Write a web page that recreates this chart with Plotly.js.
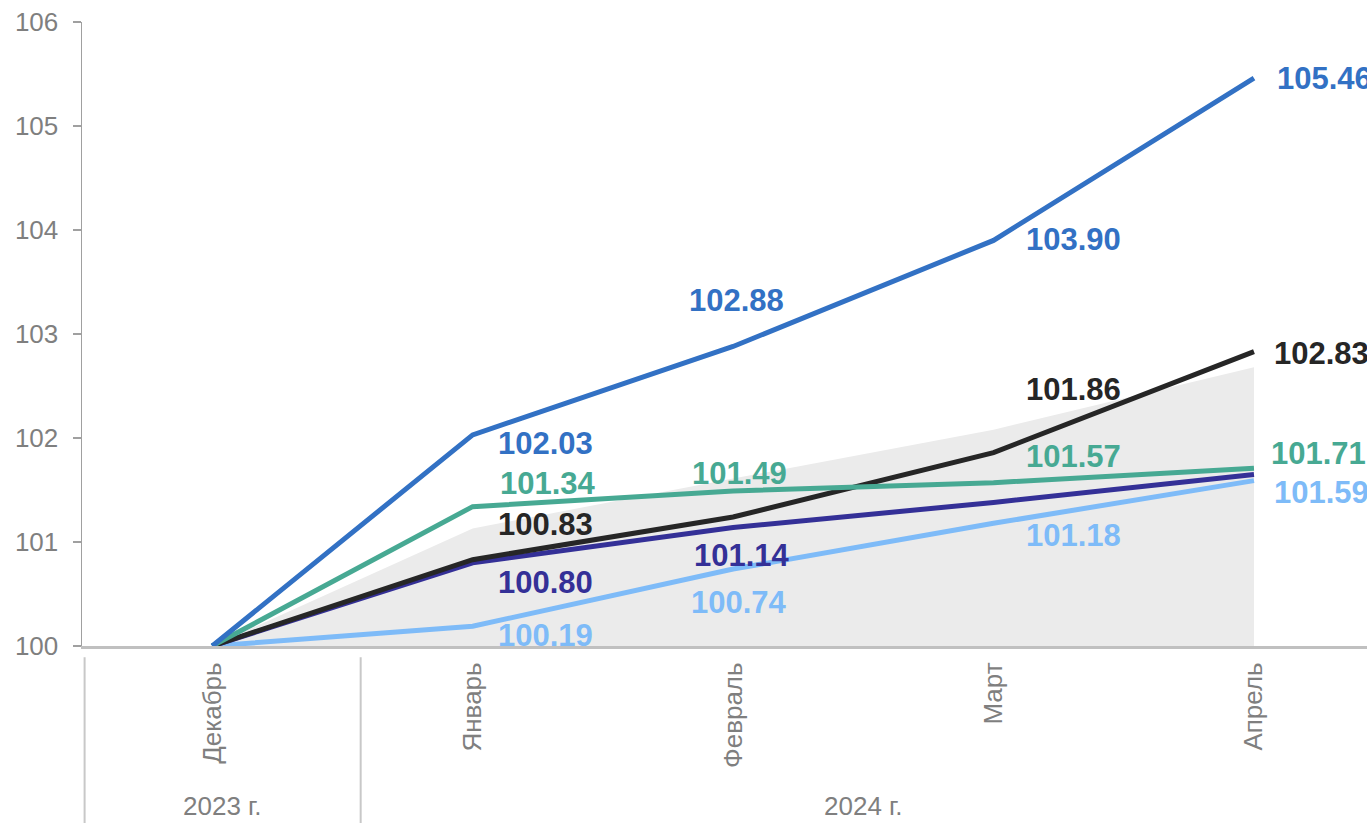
<!DOCTYPE html>
<html>
<head>
<meta charset="utf-8">
<script src="https://cdn.plot.ly/plotly-3.0.1.min.js"></script>
<style>
html,body{margin:0;padding:0;overflow:hidden;background:#fff;}
#chart{width:1367px;height:823px;}
</style>
</head>
<body>
<div id="chart"></div>
<script>
// ---- data ----
const months = ["Декабрь", "Январь", "Февраль", "Март", "Апрель"];
const years = ["2023 г.", "2024 г."];
const areaValues = [100, 101.13, 101.61, 102.08, 102.68];
const blueValues = [100, 102.03, 102.88, 103.90, 105.46];
const greenValues = [100, 101.34, 101.49, 101.57, 101.71];
const blackValues = [100, 100.83, 101.24, 101.86, 102.83];
const purpleValues = [100, 100.80, 101.14, 101.38, 101.65];
const lightValues = [100, 100.19, 100.74, 101.18, 101.59];

const labelledPoints = {
  blue: [1, 2, 3, 4],
  green: [1, 2, 3, 4],
  black: [1, 3, 4],
  purple: [1, 2],
  light: [1, 2, 3, 4]
};

// ---- styles ----
const colors = {
  blue: "#3271C4",
  green: "#47A993",
  black: "#262626",
  purple: "#343097",
  light: "#7EBBF8",
  area: "#EBEBEB",
  gray: "#7F7F7F"
};
const FONT = "'Liberation Sans', Arial, sans-serif";

// label offsets [xshift, yshift, xanchor] per series & point index
const offsets = {
  blue:   {1: [73, -9, "center"], 2: [3, 46, "center"], 3: [80, 1, "center"], 4: [21, 0, "left"]},
  green:  {1: [75, 23, "center"], 2: [6, 18, "center"], 3: [80, 26, "center"], 4: [15, 15, "left"]},
  black:  {1: [73, 35, "center"], 3: [80, 63, "center"], 4: [18, -2, "left"]},
  purple: {1: [73, -20, "center"], 2: [9, -28, "center"]},
  light:  {1: [73, -9, "center"], 2: [6, -33, "center"], 3: [80, -12, "center"], 4: [18, -12, "left"]}
};

const xIdx = months.map((m, i) => i);

function lineTrace(vals, color) {
  return {
    x: xIdx, y: vals, type: "scatter", mode: "lines",
    line: {color: color, width: 5}, hoverinfo: "skip", showlegend: false,
    cliponaxis: false
  };
}

const traces = [
  {x: xIdx, y: areaValues, type: "scatter", mode: "lines", fill: "tozeroy",
   fillcolor: colors.area, line: {width: 0, color: colors.area}, hoverinfo: "skip", showlegend: false},
  lineTrace(lightValues, colors.light),
  lineTrace(purpleValues, colors.purple),
  lineTrace(blackValues, colors.black),
  lineTrace(greenValues, colors.green),
  lineTrace(blueValues, colors.blue)
];

const seriesVals = {blue: blueValues, green: greenValues, black: blackValues, purple: purpleValues, light: lightValues};

const annotations = [];
for (const key of Object.keys(labelledPoints)) {
  for (const i of labelledPoints[key]) {
    const o = offsets[key][i];
    annotations.push({
      x: i, y: seriesVals[key][i], xref: "x", yref: "y",
      text: seriesVals[key][i].toFixed(2), showarrow: false,
      xshift: o[0], yshift: o[1], xanchor: o[2], yanchor: "middle",
      font: {family: FONT, size: 31, color: colors[key], weight: 700}
    });
  }
}
// year group labels
annotations.push({x: 0.04, y: -0.256, xref: "x", yref: "paper", text: years[0], showarrow: false,
  xanchor: "center", yanchor: "middle", font: {family: FONT, size: 26, color: colors.gray}});
annotations.push({x: 2.5, y: -0.256, xref: "x", yref: "paper", text: years[1], showarrow: false,
  xanchor: "center", yanchor: "middle", font: {family: FONT, size: 26, color: colors.gray}});

const shapes = [
  {type: "line", xref: "x", yref: "paper", x0: -0.49, x1: -0.49, y0: -0.018, y1: -0.29,
   line: {color: "#C8C8C8", width: 2}},
  {type: "line", xref: "x", yref: "paper", x0: 0.57, x1: 0.57, y0: -0.018, y1: -0.29,
   line: {color: "#C8C8C8", width: 2}}
];

const layout = {
  width: 1367, height: 823,
  margin: {l: 82, r: 0, t: 22, b: 177, pad: 0},
  paper_bgcolor: "#fff", plot_bgcolor: "#fff",
  font: {family: FONT, color: colors.gray},
  showlegend: false,
  xaxis: {
    range: [-0.5, 4.434], tickmode: "array", tickvals: xIdx, ticktext: months,
    tickangle: -90, ticks: "", showgrid: false, zeroline: false,
    showline: true, linecolor: "#C0C0C0", linewidth: 3,
    tickfont: {family: FONT, size: 26, color: colors.gray},
    ticklabelstandoff: 3, fixedrange: true
  },
  yaxis: {
    range: [100, 106], tickmode: "array", tickvals: [100, 101, 102, 103, 104, 105, 106],
    ticks: "outside", ticklen: 8, tickcolor: "#A0A0A0", tickwidth: 1.5,
    showgrid: false, zeroline: false, showline: true, linecolor: "#A0A0A0", linewidth: 1.5,
    tickfont: {family: FONT, size: 26, color: colors.gray},
    ticklabelstandoff: 9, fixedrange: true
  },
  annotations: annotations,
  shapes: shapes
};

Plotly.newPlot("chart", traces, layout, {displayModeBar: false, staticPlot: true});
</script>
</body>
</html>
